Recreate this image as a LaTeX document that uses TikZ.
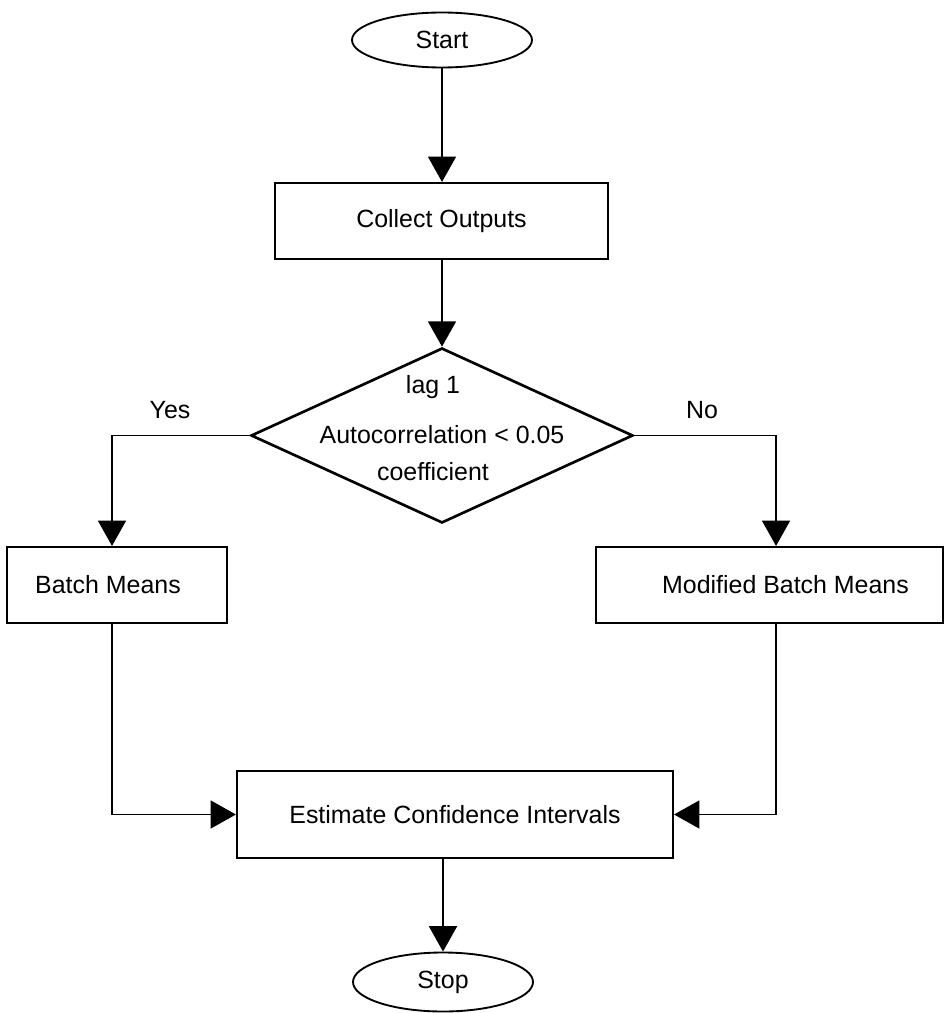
\documentclass[tikz,border=0pt]{standalone}
\usepackage{fontspec}
\setmainfont{Liberation Sans}
\usetikzlibrary{shapes.geometric,arrows.meta}

\tikzset{
  every node/.style={font=\fontsize{18.7}{22}\selectfont},
  termbox/.style={draw,ellipse,line width=1.4pt,inner sep=0pt,minimum width=135pt},
  procbox/.style={draw,rectangle,line width=1.6pt,inner sep=0pt},
  decbox/.style={draw,diamond,line width=2pt,inner sep=0pt,minimum width=286.5pt,minimum height=131.25pt},
  flow/.style={line width=1.2pt,-{Triangle[length=19pt,width=21pt]}},
}

\begin{document}
\begin{tikzpicture}[x=0.75pt,y=0.75pt,yscale=-1,xscale=1]
\useasboundingbox (0,0) rectangle (945,1013);

%Shape: Ellipse [start]
\node[termbox,minimum height=41.25pt] (start) at (442,40) {Start};
%Shape: Rectangle [collect]
\node[procbox,minimum width=249.75pt,minimum height=57pt] (collect) at (441.5,221) {Collect Outputs};
%Shape: Diamond [decision]
\node[decbox] (dec) at (442,435.5) {};
% Text Node
\node (lag) at (433,387) {lag 1};
% Text Node
\node (auto) at (442,435) {Autocorrelation < 0.05};
% Text Node
\node (coef) at (433,472) {coefficient};
%Shape: Rectangle [batch]
\node[procbox,minimum width=165pt,minimum height=57pt,
  label={[xshift=-6.75pt]center:Batch Means}] (batch) at (117,585) {};
%Shape: Rectangle [modified]
\node[procbox,minimum width=260.25pt,minimum height=57pt,
  label={[xshift=12pt]center:Modified Batch Means}] (mbm) at (769.5,585) {};
%Shape: Rectangle [estimate]
\node[procbox,minimum width=327pt,minimum height=65.25pt] (est) at (455,814.5) {Estimate Confidence Intervals};
%Shape: Ellipse [stop]
\node[termbox,minimum height=44.25pt] (stop) at (443,982) {Stop};

% Text Node
\node (yes) at (170,410) {Yes};
% Text Node
\node (no) at (702,410) {No};

%Straight Lines
\draw[flow] (start.south) -- (start.south |- collect.north);
\draw[flow] (dec.north |- collect.south) -- (dec.north);
\draw[flow] (dec.west) -| ([xshift=-3.75pt]batch.north);
\draw[flow] (dec.east) -| ([xshift=4.9pt]mbm.north);
\draw[flow] ([xshift=-3.75pt]batch.south) |- (est.west);
\draw[flow] ([xshift=4.9pt]mbm.south) |- (est.east);
\draw[flow] (stop.north |- est.south) -- (stop.north);

\end{tikzpicture}
\end{document}
